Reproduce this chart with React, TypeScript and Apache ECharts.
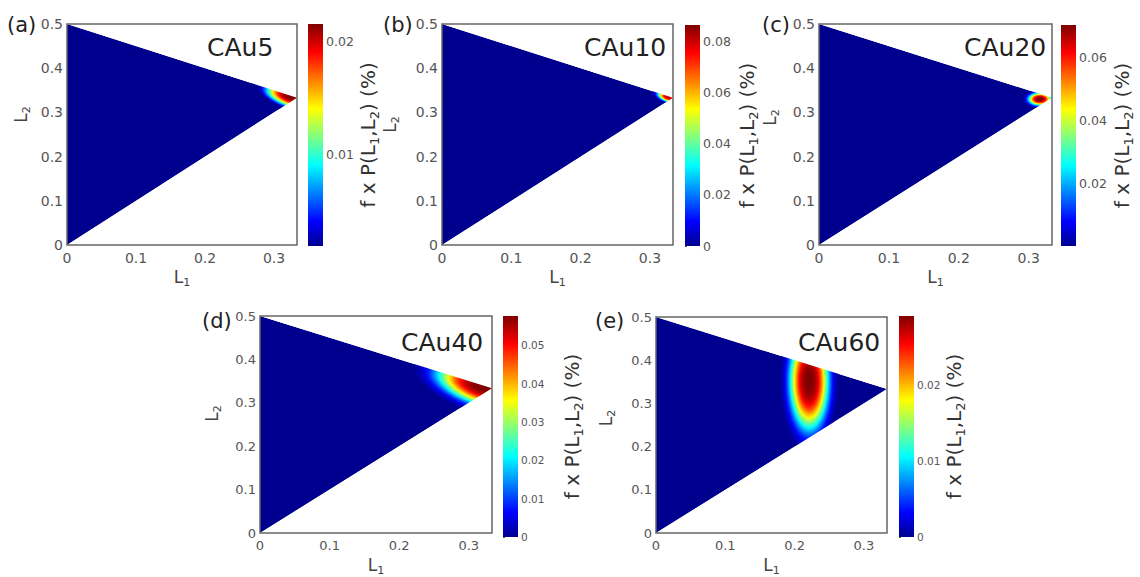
import React, { useEffect, useRef } from "react";
import * as echarts from "echarts";

// ---------- data ----------
const PANEL_LABELS = ["(a)", "(b)", "(c)", "(d)", "(e)"];
const SAMPLE_NAMES = ["CAu5", "CAu10", "CAu20", "CAu40", "CAu60"];

const L1_MAX = 1 / 3;
const L2_MAX = 0.5;
const L1_TICKS = [0, 0.1, 0.2, 0.3];
const L2_TICKS = [0, 0.1, 0.2, 0.3, 0.4, 0.5];

// domain of (L1, L2): triangle vertices
const TRI_L1 = [0, 0, 1 / 3];
const TRI_L2 = [0, 0.5, 1 / 3];

// colour-bar ranges of f x P(L1,L2) (%)
const CB_MIN = [0.0018, 0, 0.0003, 0, 0];
const CB_MAX = [0.0216, 0.0865, 0.0702, 0.0576, 0.029];
const CB_TICKS = [
  [0.01, 0.02],
  [0, 0.02, 0.04, 0.06, 0.08],
  [0.02, 0.04, 0.06],
  [0, 0.01, 0.02, 0.03, 0.04, 0.05],
  [0, 0.01, 0.02],
];

// distribution maximum: position, end of its main axis, width ratio, peak value
const PEAK_L1 = [0.326, 0.327, 0.316, 0.322, 0.221];
const PEAK_L2 = [0.334, 0.334, 0.33, 0.336, 0.352];
const EXTENT_L1 = [0.268, 0.303, 0.291, 0.22, 0.221];
const EXTENT_L2 = [0.363, 0.346, 0.33, 0.387, 0.18];
const WIDTH_RATIO = [0.36, 0.4, 0.55, 0.38, 0.4];
const PEAK_VALUE = [0.0216, 0.08, 0.0702, 0.0576, 0.029];

// ---------- layout / style ----------
const FONT = "DejaVu Sans";
const LAYOUT = [
  { left: 67, top: 24, width: 230, height: 221, cbLeft: 308, cbTop: 24, cbHeight: 222, tick: 14, cbTick: 12.5, cbGap: 31, yGap: 35, yShift: 20, label: [7, 25], title: [207, 47] },
  { left: 442, top: 24, width: 231, height: 221, cbLeft: 685, cbTop: 25, cbHeight: 221, tick: 14, cbTick: 12.5, cbGap: 34, yGap: 41, yShift: 10, label: [383, 25], title: [584, 47] },
  { left: 819, top: 24, width: 233, height: 221, cbLeft: 1061, cbTop: 25, cbHeight: 221, tick: 14, cbTick: 12.5, cbGap: 33, yGap: 38, yShift: 17, label: [762, 25], title: [964, 47.5] },
  { left: 260, top: 316, width: 232, height: 221, cbLeft: 503, cbTop: 316, cbHeight: 221, tick: 13, cbTick: 10.5, cbGap: 41, yGap: 37, yShift: 11, label: [202, 321], title: [401, 342] },
  { left: 656, top: 317, width: 231, height: 220, cbLeft: 899, cbTop: 316, cbHeight: 221, tick: 13, cbTick: 10.5, cbGap: 25, yGap: 39, yShift: 7, label: [595, 321], title: [798, 342] },
];

const JET: [number, number[]][] = [
  [0, [0, 0, 143]],
  [0.111, [0, 0, 255]],
  [0.365, [0, 255, 255]],
  [0.619, [255, 255, 0]],
  [0.873, [255, 0, 0]],
  [1, [128, 0, 0]],
];

function jet(v: number): string {
  const x = Math.max(0, Math.min(1, v));
  for (let k = 1; k < JET.length; k++) {
    const [o0, c0] = JET[k - 1];
    const [o1, c1] = JET[k];
    if (x <= o1) {
      const t = (x - o0) / (o1 - o0);
      return `rgb(${c0.map((c, j) => Math.round(c + (c1[j] - c) * t)).join(",")})`;
    }
  }
  return "rgb(128,0,0)";
}

const JET_STOPS = JET.map(([o, c]) => ({ offset: o, color: `rgb(${c.join(",")})` }));
const BG = jet(0);

function spotStops(peak: number, vmin: number, vmax: number) {
  const n = 24;
  const K = 3.9;
  const floor = Math.exp(-K);
  const out: { offset: number; color: string }[] = [];
  for (let k = 0; k <= n; k++) {
    const t = k / n;
    const shape = (Math.exp(-K * t * t * t) - floor) / (1 - floor);
    out.push({ offset: t, color: jet((peak * shape - vmin) / (vmax - vmin)) });
  }
  return out;
}

const makeHeatRender = (i: number) => (_params: any, api: any) => {
  const c = api.coord([api.value(0), api.value(1)]);
  const e = api.coord([api.value(2), api.value(3)]);
  const dx = e[0] - c[0];
  const dy = e[1] - c[1];
  const a = Math.hypot(dx, dy);
  const b = a * api.value(4);
  const rot = Math.atan2(-dy, dx);
  const pts = TRI_L1.map((v, k) => api.coord([v, TRI_L2[k]]));
  const [pBot, pTop, pApex] = pts;
  const R = 100;
  const ext = 14;
  return {
    type: "group",
    children: [
      { type: "polygon", shape: { points: pts }, style: { fill: BG } },
      {
        type: "circle",
        x: c[0],
        y: c[1],
        scaleX: a / R,
        scaleY: b / R,
        rotation: rot,
        shape: { cx: 0, cy: 0, r: R },
        style: { fill: new echarts.graphic.RadialGradient(0.5, 0.5, 0.5, spotStops(api.value(5), CB_MIN[i], CB_MAX[i])) },
      },
      {
        type: "polygon",
        shape: { points: [pTop, [pTop[0] - ext, pTop[1] - ext], [pApex[0] + ext, pTop[1] - ext], [pApex[0] + ext, pApex[1]], pApex] },
        style: { fill: "#ffffff" },
      },
      {
        type: "polygon",
        shape: { points: [pBot, [pBot[0] - ext, pBot[1] + ext], [pApex[0] + ext, pBot[1] + ext], [pApex[0] + ext, pApex[1]], pApex] },
        style: { fill: "#ffffff" },
      },
    ],
  };
};

const renderBar = (_params: any, api: any) => {
  const p0 = api.coord([api.value(0), api.value(3)]);
  const p1 = api.coord([api.value(2), api.value(1)]);
  return {
    type: "rect",
    shape: { x: p0[0], y: p0[1], width: p1[0] - p0[0], height: p1[1] - p0[1] },
    style: { fill: new echarts.graphic.LinearGradient(0, 1, 0, 0, JET_STOPS) },
  };
};

function buildOption() {
  const grid: any[] = [];
  const xAxis: any[] = [];
  const yAxis: any[] = [];
  const series: any[] = [];
  const graphic: any[] = [];

  const axisNameRich = {
    m: { fontSize: 17, fontFamily: FONT, color: "#444" },
    s: { fontSize: 11, fontFamily: FONT, color: "#444", verticalAlign: "bottom", padding: [11, 0, 0, 0] },
  };
  const cbNameRich = {
    m: { fontSize: 20, fontFamily: FONT, color: "#333" },
    s: { fontSize: 13, fontFamily: FONT, color: "#333", verticalAlign: "bottom", padding: [13, 0, 0, 0] },
  };

  LAYOUT.forEach((L, i) => {
    const g = i * 2;
    grid.push({ left: L.left, top: L.top, width: L.width, height: L.height, show: true, z: 5, borderColor: "#666", borderWidth: 1.5, backgroundColor: "transparent" });
    grid.push({ left: L.cbLeft, top: L.cbTop, width: 15, height: L.cbHeight, show: false });

    xAxis.push({
      gridIndex: g, type: "value", min: 0, max: L1_MAX,
      axisLine: { show: false }, axisTick: { show: false }, splitLine: { show: false },
      axisLabel: { customValues: L1_TICKS, fontSize: L.tick, color: "#555", fontFamily: FONT, margin: 6 },
      name: "{m|L}{s|1}", nameLocation: "middle", nameGap: 21,
      nameTextStyle: { rich: axisNameRich },
    });
    yAxis.push({
      gridIndex: g, type: "value", min: 0, max: L2_MAX,
      axisLine: { show: false }, axisTick: { show: false }, splitLine: { show: false },
      axisLabel: { customValues: L2_TICKS, fontSize: L.tick, color: "#555", fontFamily: FONT, margin: 4 },
      name: "{m|L}{s|2}", nameLocation: "middle", nameRotate: 90, nameGap: L.yGap,
      nameTextStyle: { rich: axisNameRich, padding: [0, 0, 0, 2 * L.yShift] },
    });
    xAxis.push({ gridIndex: g + 1, type: "value", min: 0, max: 1, show: false });
    yAxis.push({
      gridIndex: g + 1, type: "value", position: "right", min: CB_MIN[i], max: CB_MAX[i],
      axisLine: { show: false }, splitLine: { show: false },
      axisTick: { show: true, customValues: CB_TICKS[i], length: 2, lineStyle: { color: "#555" } },
      axisLabel: { customValues: CB_TICKS[i], fontSize: L.cbTick, color: "#555", fontFamily: FONT, margin: 3 },
      name: "{m|f x P(L}{s|1}{m|,L}{s|2}{m|) (%)}", nameLocation: "middle", nameRotate: 90, nameGap: L.cbGap,
      nameTextStyle: { rich: cbNameRich },
    });

    series.push({
      type: "custom", xAxisIndex: g, yAxisIndex: g, clip: true, silent: true, z: 2,
      data: [[PEAK_L1[i], PEAK_L2[i], EXTENT_L1[i], EXTENT_L2[i], WIDTH_RATIO[i], PEAK_VALUE[i]]],
      renderItem: makeHeatRender(i),
    });
    series.push({
      type: "custom", xAxisIndex: g + 1, yAxisIndex: g + 1, silent: true,
      data: [[0, CB_MIN[i], 1, CB_MAX[i]]],
      renderItem: renderBar,
    });

    graphic.push({
      type: "text", x: L.label[0], y: L.label[1], z: 100,
      style: { text: PANEL_LABELS[i], fontSize: 21, fontFamily: FONT, fill: "#222", verticalAlign: "middle" },
    });
    graphic.push({
      type: "text", x: L.title[0], y: L.title[1], z: 100,
      style: { text: SAMPLE_NAMES[i], fontSize: 25, fontFamily: FONT, fill: "#222", verticalAlign: "middle" },
    });
  });

  return {
    animation: false,
    backgroundColor: "#ffffff",
    textStyle: { fontFamily: FONT },
    grid,
    xAxis,
    yAxis,
    series,
    graphic,
  };
}

export default function App() {
  const ref = useRef<HTMLDivElement>(null);
  useEffect(() => {
    const chart = echarts.init(ref.current!, null, { renderer: "svg" });
    chart.setOption(buildOption() as any);
    return () => chart.dispose();
  }, []);
  return (
    <div
      ref={ref}
      style={{ position: "absolute", left: 0, top: 0, width: 1140, height: 577, background: "#fff" }}
    />
  );
}
